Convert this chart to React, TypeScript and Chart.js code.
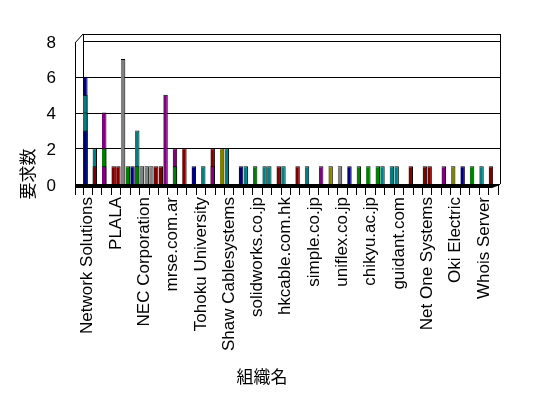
import React, { useEffect, useRef } from "react";
import { Chart, registerables } from "chart.js";

Chart.register(...registerables);

const _ = null;

// 44 organisations; only every third name is printed on the axis of the original
const categories = [
  "Network Solutions", "", "", "PLALA", "", "", "NEC Corporation", "", "", "mrse.com.ar", "", "",
  "Tohoku University", "", "", "Shaw Cablesystems", "", "", "solidworks.co.jp", "", "",
  "hkcable.com.hk", "", "", "simple.co.jp", "", "", "uniflex.co.jp", "", "", "chikyu.ac.jp", "", "",
  "guidant.com", "", "", "Net One Systems", "", "", "Oki Electric", "", "", "Whois Server", "",
];

const palette: Record<string, string> = {
  N: "#000080",
  T: "#008080",
  R: "#800000",
  P: "#800080",
  G: "#008000",
  Y: "#808080",
  O: "#808000",
  "": "#000000",
};

// front row, front-most layer
const front1Values = [
  3, 1, 1, 1, 7, 1, 1, 1, 1, _,
  _, _, _, _, _, 2, _, 1, 1, 1,
  _, 1, _, _, _, 1, 1, 1, 1, 1,
  1, 1, _, 1, _, _, 1, _, 1, 1,
  1, 1, 1, 1,
];
const front1Colors = [
  "N", "R", "P", "R", "Y", "N", "Y", "Y", "R", "",
  "", "", "", "", "", "T", "", "T", "G", "T",
  "", "T", "", "", "", "P", "O", "Y", "N", "G",
  "G", "G", "", "T", "", "", "R", "", "P", "O",
  "N", "G", "T", "R",
];

const front2Values = [
  4, 2, 2, _, _, _, _, _, _, _,
  _, _, _, _, _, _, _, _, _, _,
  _, _, _, _, _, _, _, _, _, _,
  _, _, _, _, _, _, _, _, _, _,
  _, _, _, _,
];
const front2Colors = ["T", "T", "G"];

const front3Values = [
  5, _, 4, _, _, _, _, _, _, _,
  _, _, _, _, _, _, _, _, _, _,
  _, _, _, _, _, _, _, _, _, _,
  _, _, _, _, _, _, _, _, _, _,
  _, _, _, _,
];
const front3Colors = ["T", "", "P"];

const front4Values = [
  6, _, _, _, _, _, _, _, _, _,
  _, _, _, _, _, _, _, _, _, _,
  _, _, _, _, _, _, _, _, _, _,
  _, _, _, _, _, _, _, _, _, _,
  _, _, _, _,
];
const front4Colors = ["N"];

// back row
const back1Values = [
  _, _, _, 1, 1, 1, 1, 1, 5, 1,
  2, 1, 1, 1, 2, _, 1, _, _, 1,
  1, _, 1, 1, _, _, _, _, _, _,
  _, 1, 1, _, 1, _, 1, _, _, _,
  _, _, _, _,
];
const back1Colors = [
  "", "", "", "R", "G", "G", "Y", "R", "P", "G",
  "R", "N", "T", "P", "O", "", "N", "", "", "T",
  "R", "", "R", "T", "", "", "", "", "", "",
  "", "T", "T", "", "R", "", "R", "", "", "",
  "", "", "", "",
];

const back2Values = [
  _, _, _, _, _, 3, _, _, _, 2,
  _, _, _, 2, _, _, _, _, _, _,
  _, _, _, _, _, _, _, _, _, _,
  _, _, _, _, _, _, _, _, _, _,
  _, _, _, _,
];
const back2Colors = ["", "", "", "", "", "T", "", "", "", "P", "", "", "", "R"];

const yMin = 0;
const yMax = 8;
const yStep = 2;
const xTitle = "組織名";
const yTitle = "要求数";

const FONT = '"Liberation Sans", Arial, sans-serif';
const CJK = '"Noto Sans CJK JP", sans-serif';

const layers = [
  { values: front1Values, colors: front1Colors, stack: "front" },
  { values: front2Values, colors: front2Colors, stack: "front" },
  { values: front3Values, colors: front3Colors, stack: "front" },
  { values: front4Values, colors: front4Colors, stack: "front" },
  { values: back1Values, colors: back1Colors, stack: "back" },
  { values: back2Values, colors: back2Colors, stack: "back" },
];

const frame3d = {
  id: "frame3d",
  beforeDatasetsDraw(chart: any) {
    const { ctx, chartArea } = chart;
    const L = chartArea.left;
    const R = chartArea.right;
    const T = chartArea.top;
    const B = chartArea.bottom;
    const dx = 8;
    const dy = 7;
    const ys = chart.scales.y;
    ctx.save();
    ctx.strokeStyle = "#000";
    ctx.lineWidth = 1;
    const line = (x1: number, y1: number, x2: number, y2: number) => {
      ctx.beginPath();
      ctx.moveTo(x1, y1);
      ctx.lineTo(x2, y2);
      ctx.stroke();
    };
    const rl = (v: number) => Math.round(v) + 0.5;
    // grid lines on back + side wall
    ys.ticks.forEach((t: any) => {
      if (t.value <= yMin) return;
      const py = rl(ys.getPixelForValue(t.value));
      line(t.value >= yMax ? L : L - dx, py, R + 2, py);
    });
    // back wall frame
    line(rl(L), T - dy, rl(L), B);
    line(L, rl(T - dy), R + 2, rl(T - dy));
    line(rl(R + 2), T - dy, rl(R + 2), B);
    // side wall front edge + slant
    line(rl(L - dx), T + 2, rl(L - dx), B + 11);
    line(L - dx, T + 2, L, T - dy);
    // floor
    ctx.fillStyle = "#000";
    ctx.beginPath();
    ctx.moveTo(L - dx, B);
    ctx.lineTo(R + 2, B);
    ctx.lineTo(R + 2, B + 1);
    ctx.lineTo(R - 6, B + 4);
    ctx.lineTo(L - dx, B + 4);
    ctx.closePath();
    ctx.fill();
    ctx.restore();
  },
  afterDraw(chart: any) {
    const { ctx } = chart;
    ctx.save();
    ctx.fillStyle = "#000";
    ctx.font = `17px ${CJK}`;
    ctx.textAlign = "center";
    ctx.textBaseline = "middle";
    ctx.fillText(xTitle, 262, 377);
    ctx.translate(28, 174);
    ctx.rotate(-Math.PI / 2);
    ctx.fillText(yTitle, 0, 0);
    ctx.restore();
  },
};

export default function App() {
  const ref = useRef<HTMLCanvasElement | null>(null);

  useEffect(() => {
    if (!ref.current) return;
    const chart = new Chart(ref.current, {
      type: "bar",
      data: {
        labels: categories,
        datasets: layers.map((l) => ({
          data: l.values,
          backgroundColor: l.values.map((_v, i) => palette[l.colors[i] || ""]),
          stack: l.stack,
          borderColor: "#000",
          borderWidth: { top: 1, right: 1, left: 0, bottom: 0 },
          borderSkipped: "bottom",
          categoryPercentage: 1,
          barPercentage: 0.95,
        })),
      },
      options: {
        responsive: false,
        animation: false,
        events: [],
        layout: { padding: { top: 41, right: 50, bottom: 0, left: 0 } },
        plugins: { legend: { display: false }, tooltip: { enabled: false } },
        scales: {
          x: {
            stacked: true,
            grid: {
              display: true,
              drawOnChartArea: false,
              offset: true,
              tickLength: 11,
              color: "#000",
              lineWidth: 1,
            },
            border: { display: false },
            ticks: {
              autoSkip: false,
              minRotation: 90,
              maxRotation: 90,
              padding: 2,
              color: "#000",
              font: { family: FONT, size: 17 },
            },
            afterFit: (axis: any) => {
              axis.height = 214;
            },
          },
          y: {
            stacked: false,
            min: yMin,
            max: yMax,
            grid: { display: false },
            border: { display: false },
            ticks: {
              stepSize: yStep,
              padding: 19,
              labelOffset: 2,
              color: "#000",
              font: { family: FONT, size: 17 },
            },
            afterFit: (axis: any) => {
              axis.width = 83;
            },
          },
        },
      },
      plugins: [frame3d],
    } as any);
    return () => chart.destroy();
  }, []);

  return (
    <div style={{ position: "absolute", left: 0, top: 0, width: 548, height: 398, background: "#fff" }}>
      <canvas ref={ref} width={548} height={398} style={{ display: "block" }} />
    </div>
  );
}
